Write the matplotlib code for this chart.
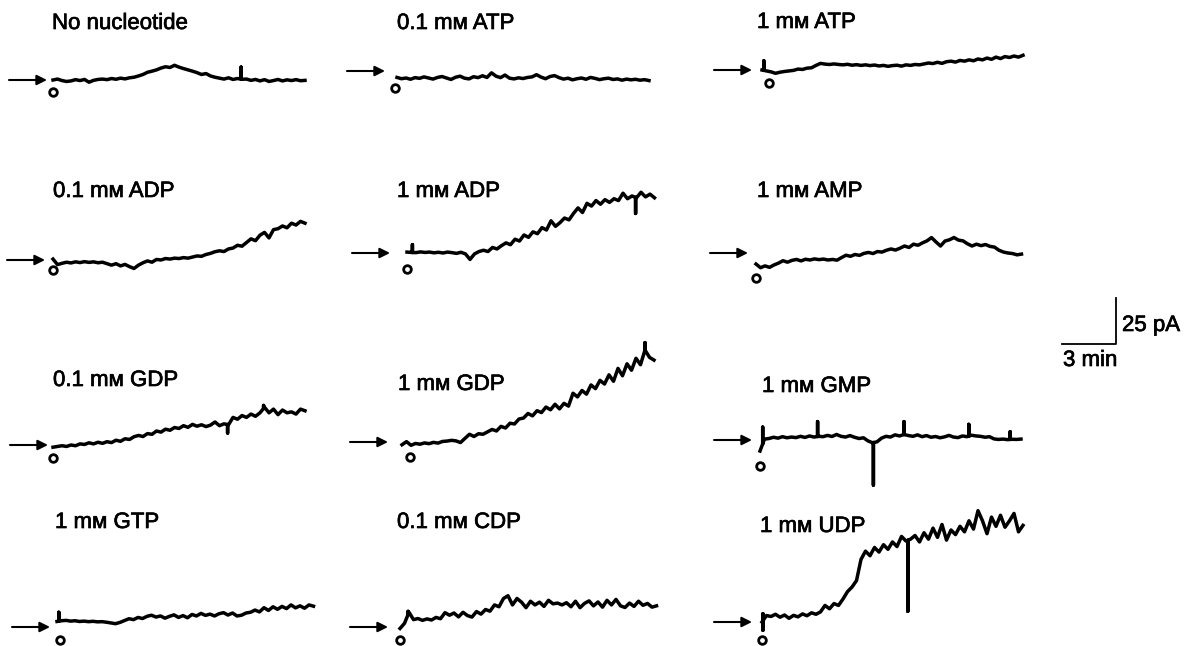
import numpy as np
import matplotlib
matplotlib.use("Agg")
import matplotlib.pyplot as plt
import matplotlib.patheffects as pe

plt.rcParams['font.family'] = ['Liberation Sans', 'DejaVu Sans']

# current traces, pA relative to the arrow (baseline), one sample every 0.25 min
DT = 0.25

no_nucleotide = [0, 0.5, -0.3, -0.8, -0.5, 0.2, -0.3, 0.3, -1.2, -0.2, 0.3, 0.5,
                 0.2, 0.8, 0.4, 1.0, 0.6, 1.2, 1.5, 2.2, 3.0, 4.2, 4.8, 5.5, 6.5,
                 7.2, 6.8, 8.0, 7.0, 6.2, 5.5, 4.8, 4.0, 3.0, 3.5, 2.2, 1.5,
                 1.0, 0.5, 1.2, 0.3, 0.8, 0.4, 0.5, -0.2, 0.3, -0.5, 0.2, -0.8,
                 -0.3, 0.3, -0.5, 0.1, -0.3, 0.2, -0.4, -0.2]
atp_01 = [-3.5, -4.2, -3.8, -4.5, -3.6, -4.0, -3.2, -3.8, -4.4, -3.5, -3.0, -3.8,
          -4.6, -3.4, -2.8, -3.9, -4.3, -3.1, -3.6, -2.6, -3.5, -1.0, -2.8, -3.6,
          -2.2, -3.9, -4.3, -3.7, -4.1, -3.5, -3.2, -2.0, -3.3, -4.2, -3.0, -2.5,
          -3.6, -4.4, -3.9, -4.8, -4.2, -3.8, -4.5, -3.5, -4.0, -4.7, -4.2, -3.9,
          -4.6, -4.3, -5.0, -4.4, -4.8, -4.5, -5.0, -4.7, -5.2]
atp_1 = [0.0, -0.5, -1.0, -1.8, -1.2, -0.8, -0.5, -0.2, 0.5, 0.3, 1.0, 1.2, 2.5,
         3.6, 3.2, 3.0, 3.3, 3.0, 2.8, 3.1, 2.6, 2.9, 2.5, 2.8, 2.4, 2.7, 2.2,
         2.5, 2.0, 2.4, 2.6, 2.1, 2.8, 2.5, 3.0, 2.8, 3.3, 3.8, 3.5, 4.2, 3.6,
         4.5, 4.8, 4.3, 5.2, 4.8, 5.5, 5.0, 6.0, 5.5, 6.5, 5.8, 7.0, 6.2, 7.3,
         6.8, 7.6, 7.0, 8.0]
adp_01 = [0.5, -2.5, -1.8, -1.2, -1.6, -1.0, -1.4, -0.9, -1.3, -1.0, -1.5, -1.2,
          -2.0, -2.8, -2.0, -3.2, -2.4, -3.6, -4.6, -2.8, -1.5, -0.5, -1.2, 0.3,
          0.0, 0.8, 0.5, 1.0, 0.8, 1.3, 1.0, 1.6, 2.2, 2.0, 3.0, 3.6, 4.5, 5.0,
          4.6, 6.0, 6.5, 8.0, 7.5, 9.5, 11.5, 10.5, 13.5, 15.0, 12.0, 16.5, 17.0,
          18.5, 17.5, 20.0, 19.0, 21.0, 20.0]
adp_1 = [0.5, 0.3, 0.2, 0.6, 0.3, 0.5, 0.1, 0.4, 0.0, 0.5, 0.2, -0.2, 0.4, -0.5,
         -3.5, -0.5, 0.8, 1.5, 0.8, 3.0, 2.2, 4.0, 5.5, 4.5, 7.5, 6.5, 9.8, 8.5,
         11.5, 10.5, 13.8, 12.5, 17.5, 14.5, 16.5, 19.0, 18.0, 21.5, 24.5, 22.0,
         27.0, 25.5, 28.5, 26.5, 29.0, 27.5, 29.5, 28.5, 32.5, 29.5, 31.0, 30.0,
         33.0, 30.5, 32.0, 30.0]
amp_1 = [-6.0, -8.0, -7.0, -7.8, -6.5, -5.5, -4.2, -5.0, -4.0, -3.5, -4.3, -3.4,
         -3.8, -3.2, -3.6, -3.3, -3.8, -3.5, -3.9, -2.5, -1.2, -1.8, -0.8, -1.3,
         -0.2, 0.3, -0.3, 0.8, 0.5, 1.5, 2.2, 1.6, 2.6, 3.8, 3.0, 4.8, 4.2, 5.5,
         6.6, 8.4, 6.0, 3.8, 6.5, 7.2, 8.4, 7.0, 6.6, 5.0, 3.8, 4.8, 4.0, 4.6,
         3.6, 3.2, 1.5, 0.5, 0.0, -0.3, -1.0, -0.6]
gdp_01 = [-1.2, -0.8, -0.4, -0.8, 0.0, -0.4, 0.6, 0.3, 1.2, 0.6, 1.5, 0.9, 1.8,
          1.3, 2.6, 2.0, 3.4, 3.0, 4.5, 5.2, 4.6, 6.2, 5.8, 7.6, 7.0, 8.6, 8.0,
          9.5, 9.0, 10.5, 9.6, 11.2, 10.2, 11.0, 10.0, 10.8, 12.5, 10.5, 11.5,
          11.0, 15.0, 14.0, 16.0, 15.0, 16.8, 15.6, 17.5, 20.5, 17.5, 19.5, 16.5,
          19.0, 17.5, 18.0, 16.8, 19.5, 18.6]
gdp_1 = [-1.5, 0.2, -1.8, -0.8, -1.2, -0.5, -0.9, -0.2, -0.6, 0.3, 0.5, 0.9, 0.6,
         -0.3, 2.0, 4.2, 3.0, 4.5, 4.2, 5.5, 6.8, 6.0, 8.5, 7.6, 10.2, 9.8, 12.5,
         13.0, 15.5, 14.2, 17.0, 16.0, 19.0, 17.5, 20.5, 18.0, 21.0, 19.5, 26.5,
         24.5, 28.0, 26.0, 31.0, 29.0, 33.5, 31.5, 36.5, 33.0, 40.0, 36.0, 42.5,
         39.0, 45.5, 42.0, 50.0, 46.0, 44.5]
gmp_1 = [-6.0, 0.5, 0.8, 1.5, 1.0, 1.8, 1.2, 1.6, 1.3, 2.0, 1.4, 2.2, 1.6, 2.0,
         1.8, 2.5, 1.9, 3.0, 2.0, 1.6, 2.4, 1.5, 0.8, 1.2, -0.5, -1.5, -1.0, 1.0,
         2.0, 1.6, 2.8, 2.2, 3.0, 2.4, 2.0, 2.8, 1.8, 2.4, 1.5, 1.9, 1.2, 1.7,
         2.5, 1.6, 1.3, 2.2, 1.8, 2.6, 2.2, 2.0, 1.5, 1.8, 0.6, 0.3, 0.5, 0.2,
         0.4, 0.3, 0.5]
gtp_1 = [3.0, 3.4, 3.6, 3.2, 3.4, 3.0, 3.2, 2.9, 3.1, 2.8, 2.9, 2.6, 2.2, 1.8,
         2.5, 3.5, 4.5, 4.0, 5.2, 4.6, 5.8, 6.4, 5.4, 6.0, 4.8, 5.8, 6.6, 5.2,
         6.2, 5.0, 6.8, 6.0, 7.4, 6.3, 7.0, 6.0, 7.2, 7.8, 6.5, 7.6, 6.0, 6.4,
         7.6, 8.0, 9.2, 8.2, 10.5, 9.0, 11.0, 9.6, 11.2, 10.0, 12.0, 10.4, 11.5,
         10.2, 12.0, 11.3]
cdp_01 = [-0.8, 2.0, 8.0, 4.0, 4.6, 3.6, 4.4, 3.8, 5.2, 4.5, 7.8, 6.4, 7.6, 5.5,
          8.0, 6.2, 5.4, 8.4, 7.0, 9.5, 8.6, 12.0, 11.0, 15.5, 17.0, 12.0, 15.5,
          13.5, 10.5, 14.0, 12.0, 13.5, 11.2, 14.5, 12.6, 13.0, 12.0, 13.2, 11.0,
          14.0, 10.5, 12.8, 14.2, 11.5, 13.6, 10.8, 14.5, 12.0, 15.0, 11.5, 10.6,
          13.0, 11.2, 14.0, 11.8, 12.8, 10.8, 11.5]
udp_1 = [0.0, 3.5, 3.0, 4.2, 2.6, 3.8, 2.0, 3.6, 2.8, 4.4, 3.4, 5.0, 4.2, 5.5,
         9.0, 7.2, 10.0, 9.0, 12.5, 16.5, 19.0, 22.5, 34.0, 38.5, 36.0, 40.5,
         38.0, 42.0, 39.5, 43.5, 41.0, 46.5, 44.0, 45.0, 47.0, 43.5, 48.5, 45.0,
         51.0, 46.0, 53.0, 44.5, 50.0, 47.5, 52.0, 49.0, 55.0, 50.5, 60.5, 55.0,
         48.0, 57.0, 52.0, 58.0, 51.5, 55.0, 59.0, 49.0, 52.5]

# brief transients: (minute into trace, tip in pA)
no_nucleotide_spikes = [(10.45, 7.0)]
atp_1_spikes = [(0.1, 5.0)]
adp_1_spikes = [(0.3, 4.5), (12.7, 21.5)]
gdp_01_spikes = [(9.7, 6.5), (11.7, 21.5)]
gdp_1_spikes = [(13.5, 54.0)]
gmp_1_spikes = [(0.15, 7.0), (3.2, 10.0), (6.3, -24.5), (8.0, 10.0),
                (11.6, 8.5), (13.9, 4.5)]
gtp_1_spikes = [(0.1, 8.0)]
cdp_01_spikes = [(0.45, 8.5)]
udp_1_spikes = [(0.05, 4.5), (0.05, -4.5), (8.1, 5.8)]

titles = ["No nucleotide", "0.1 mᴍ ATP", "1 mᴍ ATP",
          "0.1 mᴍ ADP", "1 mᴍ ADP", "1 mᴍ AMP",
          "0.1 mᴍ GDP", "1 mᴍ GDP", "1 mᴍ GMP",
          "1 mᴍ GTP", "0.1 mᴍ CDP", "1 mᴍ UDP"]
traces = [no_nucleotide, atp_01, atp_1, adp_01, adp_1, amp_1,
          gdp_01, gdp_1, gmp_1, gtp_1, cdp_01, udp_1]
spikes = [no_nucleotide_spikes, [], atp_1_spikes, [], adp_1_spikes, [],
          gdp_01_spikes, gdp_1_spikes, gmp_1_spikes, gtp_1_spikes,
          cdp_01_spikes, udp_1_spikes]

# layout (pixels of the 1187x646 figure)
W, H = 1187, 646
PX_MIN = 18.0   # pixels per minute
PX_PA = 1.84    # pixels per pA
trace_x0 = [53, 397, 762, 53, 407, 756, 53, 402, 760, 57, 400, 762]
base_y = [80, 71, 70, 260, 253, 253, 445, 442, 440, 627, 627, 622]
arrow_tip = [47, 385, 752, 45, 390, 748, 48, 388, 752, 50, 388, 752]
circle_xy = [(53, 92), (395, 88), (769, 83), (53, 270), (407, 269), (756, 278),
             (53, 458), (410, 457), (760, 466), (60, 640), (400, 640), (762, 640)]
title_xy = [(52, 29), (397, 29), (757, 28), (53, 197), (397, 197), (757, 197),
            (53, 386), (398, 390), (762, 392), (55, 528), (397, 528), (760, 532)]
FS = 16
bold_ish = [pe.withStroke(linewidth=0.5, foreground='k')]


def xd(px):
    return px / PX_MIN


def yd(py):
    return (H - py) / PX_PA


fig = plt.figure(figsize=(W / 100, H / 100), dpi=100)
ax = fig.add_axes([0, 0, 1, 1])
ax.set_xlim(0, W / PX_MIN)
ax.set_ylim(0, H / PX_PA)
ax.axis('off')

for i, vals in enumerate(traces):
    t = np.arange(len(vals)) * DT
    v = np.array(vals, dtype=float)
    # splice each transient in as a vertical excursion
    for ts, tip in sorted(spikes[i]):
        k = np.searchsorted(t, ts)
        vb = np.interp(ts, t, v)
        t = np.insert(t, k, [ts, ts, ts])
        v = np.insert(v, k, [vb, tip, vb])
    ax.plot(xd(trace_x0[i]) + t, yd(base_y[i]) + v, color='k', lw=2.5,
            solid_joinstyle='round')
    ax.annotate('', xy=(xd(arrow_tip[i]), yd(base_y[i])),
                xytext=(xd(arrow_tip[i] - 38), yd(base_y[i])),
                arrowprops=dict(arrowstyle='-|>', color='k', lw=1.5,
                                mutation_scale=15, shrinkA=0, shrinkB=0))
    cx, cy = circle_xy[i]
    ax.plot(xd(cx), yd(cy), 'o', ms=5.5, mfc='white', mec='k', mew=2.0)
    tx, ty = title_xy[i]
    ax.text(xd(tx), yd(ty), titles[i], fontsize=FS, ha='left', va='baseline',
            path_effects=bold_ish)

# scale bar: 3 min x 25 pA
sx, sy = xd(1116), yd(344)
ax.plot([sx - 3, sx, sx], [sy, sy, sy + 25], color='k', lw=1.3)
ax.text(xd(1122), yd(331), "25 pA", fontsize=FS, ha='left', va='baseline',
        path_effects=bold_ish)
ax.text(xd(1063), yd(366), "3 min", fontsize=FS, ha='left', va='baseline',
        path_effects=bold_ish)

fig.savefig("out.png", dpi=100)
